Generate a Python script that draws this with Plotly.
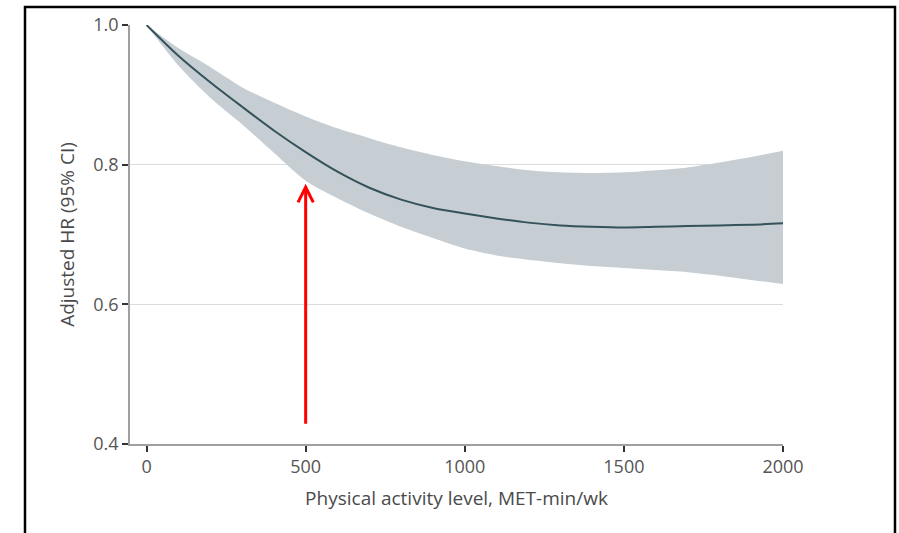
import plotly.graph_objects as go

# Physical activity level (MET-min/wk)
met = [0, 100, 200, 300, 400, 500, 600, 700, 800, 900, 1000,
       1100, 1200, 1300, 1400, 1500, 1600, 1700, 1800, 1900, 2000]
# Adjusted hazard ratio
hr = [1.0, 0.956, 0.918, 0.883, 0.849, 0.818, 0.790, 0.767, 0.750, 0.738, 0.730,
      0.723, 0.717, 0.713, 0.711, 0.710, 0.711, 0.712, 0.713, 0.714, 0.716]
hr_upper = [1.0, 0.967, 0.940, 0.911, 0.889, 0.869, 0.852, 0.838, 0.825, 0.814, 0.805,
            0.798, 0.792, 0.789, 0.788, 0.789, 0.792, 0.796, 0.803, 0.811, 0.820]
hr_lower = [1.0, 0.942, 0.896, 0.858, 0.817, 0.777, 0.752, 0.730, 0.711, 0.695, 0.680,
            0.670, 0.664, 0.659, 0.655, 0.652, 0.649, 0.646, 0.641, 0.635, 0.629]

x_ticks = [0, 500, 1000, 1500, 2000]
y_ticks = [0.4, 0.6, 0.8, 1.0]

arrow_x = 500
arrow_tip = 0.7725
arrow_tail = 0.427

band_color = "#c6ced4"
fig = go.Figure()
fig.add_trace(go.Scatter(
    x=met, y=hr_upper, mode="lines",
    line=dict(width=0, color=band_color, shape="spline", smoothing=0.8),
    hoverinfo="skip", showlegend=False))
fig.add_trace(go.Scatter(
    x=met, y=hr_lower, mode="lines", fill="tonexty", fillcolor=band_color,
    line=dict(width=0, color=band_color, shape="spline", smoothing=0.8),
    hoverinfo="skip", showlegend=False))
fig.add_trace(go.Scatter(
    x=met, y=hr, mode="lines",
    line=dict(color="#34525a", width=2, shape="spline", smoothing=0.8),
    showlegend=False))

fig.add_annotation(
    x=arrow_x, y=arrow_tip, ax=arrow_x, ay=arrow_tail,
    xref="x", yref="y", axref="x", ayref="y",
    showarrow=True, arrowhead=5, arrowsize=1, arrowwidth=3,
    arrowcolor="#ff0000", text="")

fig.add_shape(type="rect", xref="paper", yref="paper",
              x0=-0.1608, x1=1.1715, y0=-0.25, y1=1.0427,
              line=dict(color="black", width=2.5), layer="above")

font_family = "Open Sans, Liberation Sans, sans-serif"
fig.update_layout(
    width=899, height=533,
    margin=dict(l=130, r=116, t=22, b=89),
    paper_bgcolor="white", plot_bgcolor="white",
    font=dict(family=font_family, size=18, color="#555555"),
    xaxis=dict(
        range=[-52, 2000], tickvals=x_ticks, ticktext=[str(v) for v in x_ticks],
        showgrid=False, zeroline=False, showline=True, linecolor="#a0a0a0",
        linewidth=1.5, ticks="outside", ticklen=6, tickwidth=1.5, tickcolor="#333333",
        title=dict(text="Physical activity level, MET-min/wk",
                   font=dict(size=19, color="#4a4a4a"), standoff=14),
        tickfont=dict(size=18, color="#555555")),
    yaxis=dict(
        range=[0.4, 1.0], tickvals=y_ticks, ticktext=["%.1f" % v for v in y_ticks],
        showgrid=True, gridcolor="#dcdcdc", gridwidth=1.2, zeroline=False,
        showline=True, linecolor="#a0a0a0", linewidth=1.5,
        ticks="outside", ticklen=6, tickwidth=1.5, tickcolor="#333333",
        title=dict(text="Adjusted HR (95% CI)",
                   font=dict(size=19, color="#4a4a4a"), standoff=14),
        tickfont=dict(size=18, color="#555555")),
)

fig.write_html("out.html")
